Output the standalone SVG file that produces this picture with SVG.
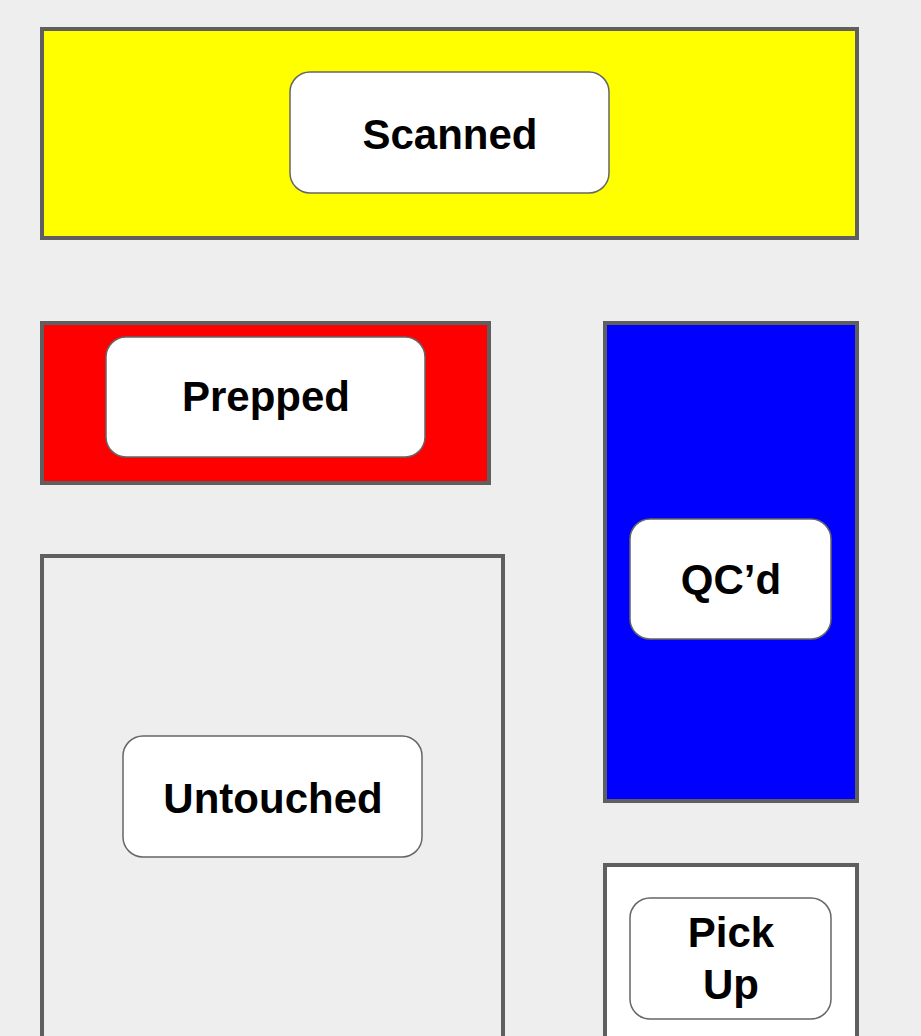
<svg xmlns="http://www.w3.org/2000/svg" width="921" height="1036" viewBox="0 0 921 1036">
<style>
.zone{stroke:#5f5f5f;stroke-width:4}
.box{fill:#fff;stroke:#666;stroke-width:1.5}
.lbl{font-family:"Liberation Sans",Arial,sans-serif;font-weight:bold;font-size:42px;fill:#000;text-anchor:middle}
</style>
<rect width="921" height="1036" fill="#eeeeee"/>
<g id="scanned">
<rect class="zone" x="42" y="29" width="815" height="209" fill="#ffff00"/>
<rect class="box" x="290" y="72" width="319" height="121" rx="20"/>
<text class="lbl" x="450" y="149">Scanned</text>
</g>
<g id="prepped">
<rect class="zone" x="42" y="323" width="447" height="160" fill="#ff0000"/>
<rect class="box" x="106" y="337" width="319" height="120" rx="20" stroke="none"/>
<text class="lbl" x="266" y="411">Prepped</text>
</g>
<g id="qcd">
<rect class="zone" x="605" y="323" width="252" height="478" fill="#0000ff"/>
<rect class="box" x="630" y="519" width="201" height="120" rx="20" stroke="none"/>
<text class="lbl" x="731" y="594">QC’d</text>
</g>
<g id="untouched">
<rect class="zone" x="42" y="556" width="461" height="500" fill="#eeeeee"/>
<rect class="box" x="123" y="736" width="299" height="121" rx="20"/>
<text class="lbl" x="273" y="813">Untouched</text>
</g>
<g id="pickup">
<rect class="zone" x="605" y="865" width="252" height="200" fill="#ffffff"/>
<rect class="box" x="630" y="898" width="201" height="121" rx="20"/>
<text class="lbl" x="731" y="947">Pick</text>
<text class="lbl" x="731" y="999">Up</text>
</g>
<g id="connectors"></g>
</svg>
